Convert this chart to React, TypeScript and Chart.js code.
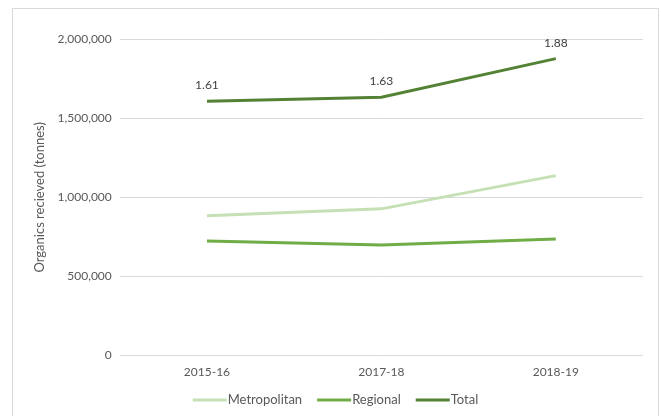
import React, { useEffect, useRef } from "react";
import { Chart, registerables } from "chart.js";

Chart.register(...registerables);

const categories = ["2015-16", "2017-18", "2018-19"];
const metropolitan = [883000, 927000, 1137000];
const regional = [724000, 698000, 737000];
const total = [1606000, 1632000, 1876000];
const yMin = 0;
const yMax = 2000000;
const yStep = 500000;

const FONT = "Lato, 'Liberation Sans', sans-serif";
const TEXT = "#595959";

const totalLabelsPlugin = {
  id: "totalLabels",
  afterDatasetsDraw(chart: any) {
    const meta = chart.getDatasetMeta(2);
    const ctx = chart.ctx;
    ctx.save();
    ctx.font = `12px ${FONT}`;
    ctx.fillStyle = "#404040";
    ctx.textAlign = "center";
    ctx.textBaseline = "bottom";
    meta.data.forEach((pt: any, i: number) => {
      ctx.fillText((total[i] / 1e6).toFixed(2), pt.x, pt.y - 10);
    });
    ctx.restore();
  },
};

const lineLegendPlugin = {
  id: "lineLegend",
  afterDraw(chart: any) {
    const ctx = chart.ctx;
    const ds = chart.data.datasets;
    const lineW = 34;
    const textGap = 1;
    const itemGap = 15;
    const y = 400;
    ctx.save();
    ctx.font = `13px ${FONT}`;
    const widths = ds.map((d: any) => lineW + textGap + ctx.measureText(d.label).width);
    const totalW = widths.reduce((a: number, b: number) => a + b, 0) + itemGap * (ds.length - 1);
    let x = chart.width / 2 + 5 - totalW / 2;
    ds.forEach((d: any, i: number) => {
      ctx.strokeStyle = d.borderColor;
      ctx.lineWidth = 3;
      ctx.beginPath();
      ctx.moveTo(x, y);
      ctx.lineTo(x + lineW, y);
      ctx.stroke();
      ctx.fillStyle = TEXT;
      ctx.textAlign = "left";
      ctx.textBaseline = "middle";
      ctx.fillText(d.label, x + lineW + textGap, y);
      x += widths[i] + itemGap;
    });
    ctx.restore();
  },
};

export default function App() {
  const ref = useRef<HTMLCanvasElement>(null);
  useEffect(() => {
    if (!ref.current) return;
    const chart = new Chart(ref.current, {
      type: "line",
      data: {
        labels: categories,
        datasets: [
          {
            label: "Metropolitan",
            data: metropolitan,
            borderColor: "#c5e0b4",
            backgroundColor: "#c5e0b4",
            borderWidth: 3,
            pointRadius: 0,
            tension: 0,
          },
          {
            label: "Regional",
            data: regional,
            borderColor: "#70ad47",
            backgroundColor: "#70ad47",
            borderWidth: 3,
            pointRadius: 0,
            tension: 0,
          },
          {
            label: "Total",
            data: total,
            borderColor: "#548235",
            backgroundColor: "#548235",
            borderWidth: 3,
            pointRadius: 0,
            tension: 0,
          },
        ],
      },
      options: {
        animation: false,
        responsive: false,
        maintainAspectRatio: false,
        layout: { padding: { left: 32, right: 18, top: 39, bottom: 28 } },
        scales: {
          x: {
            offset: true,
            grid: { display: false, drawTicks: false },
            border: { display: false },
            ticks: { color: TEXT, font: { family: FONT, size: 12 }, padding: 9 },
          },
          y: {
            min: yMin,
            max: yMax,
            grid: { color: "#d9d9d9", drawTicks: false, lineWidth: 1 },
            border: { display: false },
            ticks: {
              stepSize: yStep,
              color: TEXT,
              padding: 8,
              font: { family: FONT, size: 12 },
              callback: (v: any) => Number(v).toLocaleString("en-US"),
            },
            title: {
              display: true,
              text: "Organics recieved (tonnes)",
              color: TEXT,
              font: { family: FONT, size: 13 },
              padding: { top: 0, bottom: 2 },
            },
          },
        },
        plugins: {
          legend: { display: false },
          tooltip: { enabled: false },
        },
      },
      plugins: [totalLabelsPlugin, lineLegendPlugin],
    });
    return () => chart.destroy();
  }, []);
  return (
    <div style={{ position: "fixed", left: 0, top: 0, width: 661, height: 416, background: "#fff", overflow: "hidden" }}>
      <div style={{ position: "absolute", left: 12, top: 8, width: 647, height: 430, border: "1px solid #d9d9d9", boxSizing: "border-box" }} />
      <canvas ref={ref} width={661} height={416} style={{ position: "absolute", left: 0, top: 0, width: 661, height: 416 }} />
    </div>
  );
}
